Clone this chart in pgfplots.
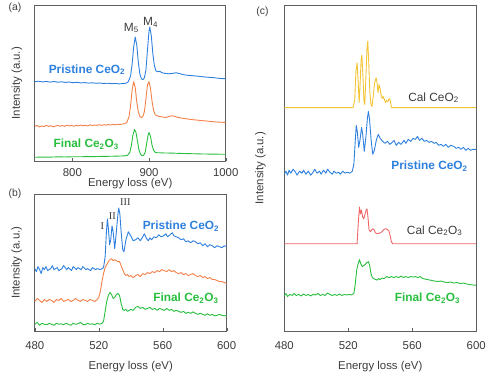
\documentclass[border=0pt]{standalone}
\usepackage{pgfplots}
\pgfplotsset{compat=1.18}
\usepackage{fontspec}
\setmainfont{Liberation Sans}
\newfontfamily\romanfont{Liberation Serif}
\definecolor{cblue}{RGB}{45,128,222}
\definecolor{corange}{RGB}{242,128,72}
\definecolor{cgreen}{RGB}{40,190,62}
\definecolor{cyellow}{RGB}{245,196,52}
\definecolor{cred}{RGB}{240,102,102}
\definecolor{cframe}{RGB}{95,95,95}
\definecolor{ctext}{RGB}{60,60,60}
\pgfplotsset{
  panel/.style={
    scale only axis,
    axis line style={cframe, line width=0.8bp},
    ytick=\empty,
    xtick pos=left,
    tick align=inside,
    major tick length=3bp,
    tick style={cframe},
    /pgf/number format/assume math mode=true,
    /pgf/number format/1000 sep={},
    tick label style={font=\fontsize{11.5}{13}\selectfont, text=ctext},
    label style={font=\fontsize{11.5}{13}\selectfont, text=ctext},
    xlabel={Energy loss (eV)},
    ylabel={Intensity (a.u.)},
    clip=true,
    every axis plot/.append style={line width=0.9bp, line join=round},
  }
}
\newcommand{\lab}[1]{\fontsize{12}{13}\selectfont\bfseries #1}
\newcommand{\labn}[1]{\fontsize{12}{13}\selectfont #1}
\begin{document}
\begin{tikzpicture}[x=1bp,y=1bp]
\path (0,0) rectangle (489,-381);
% ---------------- panel (a)
\begin{axis}[panel, at={(35bp,-162bp)}, anchor=south west,
  width=192bp, height=157bp, xmin=751, xmax=1000, ymin=0, ymax=157,
  xtick={800,900,1000},
  xticklabel style={anchor=center, yshift=-11bp},
  xlabel style={at={(axis description cs:0.5,0)}, anchor=center, yshift=-22bp},
  ylabel style={at={(axis description cs:-0.094,0.5)}, anchor=center}]
\addplot[cblue] coordinates {
(751,80) (756,80.5) (761,79.8) (766,80.3) (771,79.6) (776,80.2) (781,79.5) (786,79.9) (791,79.3) (796,79.7) (801,79.0) (806,79.4) (811,78.8) (816,79.1) (821,78.6) (826,78.9) (831,78.4) (836,78.7) (841,78.2) (846,78.5) (851,78.0) (856,78.3) (861,77.8) (866,78.2) (870,78.5) (873,80) (876,86) (878,98) (880,115) (882,125) (884,117) (886,100) (888,88) (890,83) (892,82) (894,84) (896,92) (898,112) (900,131) (901,135) (903,126) (905,108) (907,96) (909,91) (911,90) (914,90.5) (917,89) (920,88.5) (925,88) (930,88.3) (935,89) (940,88.2) (945,87) (950,86.5) (955,86.2) (960,85.8) (965,85.5) (970,85) (975,84.6) (980,84.3) (985,84) (990,83.5) (995,83.2) (1000,83)};
\addplot[corange] coordinates {
(751,35) (754,36) (757,34.5) (760,35.5) (763,34.8) (766,36.2) (769,35) (772,35.8) (775,34.6) (778,35.4) (781,36) (784,35.2) (787,35.9) (790,35.1) (793,36.3) (796,35.5) (799,35.9) (802,35.2) (805,36.1) (808,35.6) (811,36.4) (814,35.8) (817,36.2) (820,35.5) (823,36.6) (826,35.9) (829,36.5) (832,36) (835,36.8) (838,36.1) (841,36.7) (844,36.3) (847,37) (850,36.4) (853,37.1) (856,36.6) (859,37.2) (862,36.9) (865,37.4) (868,37.8) (871,39) (874,45) (876,56) (878,72) (880,80) (882,74) (884,60) (886,50) (888,45) (890,44) (892,45) (894,50) (896,63) (898,77) (900,80) (902,73) (904,60) (906,51) (908,47) (911,45.5) (914,45) (918,44.5) (922,44) (926,45) (930,45.8) (934,45) (938,44) (942,43.5) (946,43) (950,42.5) (955,42) (960,41.6) (965,41.2) (970,40.8) (975,40.5) (980,40) (985,39.7) (990,39.4) (995,39.2) (1000,39)};
\addplot[cgreen] coordinates {
(751,4) (760,4.2) (770,4.1) (780,4.4) (790,4.3) (800,4.5) (810,4.5) (820,4.7) (830,4.7) (840,4.9) (850,5) (860,5.2) (868,5.4) (872,6) (875,9) (877,16) (879,26) (881,32) (883,29) (885,20) (887,11) (889,7) (891,5.5) (893,6) (895,9) (897,18) (899,27) (900,29) (902,25) (904,16) (906,11) (908,9) (911,8.5) (915,8.5) (920,8.3) (930,8.2) (940,7.9) (950,7.7) (960,7.5) (970,7.3) (980,7.2) (990,7.1) (1000,7)};
\node[text=cblue] at (axis cs:819,92) {\lab{Pristine CeO\textsubscript{2}}};
\node[text=cgreen] at (axis cs:818,17) {\lab{Final Ce\textsubscript{2}O\textsubscript{3}}};
\node[text=ctext] at (axis cs:877,134) {\labn{M\textsubscript{5}}};
\node[text=ctext] at (axis cs:902,140) {\labn{M\textsubscript{4}}};
\end{axis}
% ---------------- panel (b)
\begin{axis}[panel, at={(35bp,-333bp)}, anchor=south west,
  width=193bp, height=138bp, xmin=480, xmax=600, ymin=0, ymax=138,
  xtick={480,520,560,600},
  xticklabel style={anchor=center, yshift=-14bp},
  xlabel style={at={(axis description cs:0.5,0)}, anchor=center, yshift=-36bp},
  ylabel style={at={(axis description cs:-0.094,0.5)}, anchor=center}]
\addplot[cblue] coordinates {
(480,63) (481,60) (482,65) (483,62) (484,58) (485,64) (486,62) (487,65) (488,61) (490,63) (491,66) (492,62) (494,64) (495,61) (497,63) (498,66) (500,62) (501,64) (503,61) (504,65) (506,62) (507,64) (509,62) (510,65) (512,62) (513,63) (515,61) (516,64) (518,62) (519,63) (521,62) (522,63) (523,64) (524,75) (524.8,100) (525.4,113) (526,104) (526.8,87) (527.5,92) (528.3,106) (529,100) (530,83) (531,100) (532,118) (532.5,124) (533.2,118) (534,100) (535,82) (535.8,80) (537,92) (538.5,100) (540,96) (541.5,91) (543,92) (544.5,94) (546,91) (547.5,95) (548.5,98) (550,93) (551,91) (552,94) (553,92) (554.5,95) (556,94) (557.5,97) (559,95) (560.5,96) (562,98) (563,95) (564.5,97) (566,99) (567,96) (568.5,95) (570,94) (571.5,92) (573,93) (574.5,90) (576,91) (577.5,89) (579,91) (580.5,90) (582,88) (583.5,89) (585,86) (586.5,88) (588,85) (589.5,87) (591,86) (592.5,84) (594,86) (595.5,85) (597,84) (598.5,86) (600,85)};
\addplot[corange] coordinates {
(480,30) (481.5,33) (483,31) (484.5,29) (486,32) (487.5,30) (489,32) (490.5,31) (492,29) (493.5,32) (495,31) (496.5,33) (498,30) (499.5,31) (501,32) (502.5,30) (504,31) (505.5,33) (507,31) (508.5,30) (510,32) (511.5,31) (513,30) (514.5,32) (516,31) (517.5,30) (519,32) (520,34) (521,40) (522,50) (523,58) (524,64) (525,67) (526,70) (527,72) (528,73) (529,71) (530,72) (531,71) (532,70) (533,70) (534,66) (535,62) (536,58) (537,56) (538,57) (539,55) (540,56) (541.5,54) (543,56) (544.5,57) (546,55) (547.5,58) (549,57) (550.5,59) (552,58) (553.5,60) (555,59) (556.5,61) (558,60) (559.5,62) (561,61) (562.5,60) (564,62) (565.5,60) (567,61) (568.5,59) (570,58) (571.5,59) (573,57) (574.5,58) (576,56) (577.5,57) (579,58) (580.5,56) (582,55) (583.5,56) (585,54) (586.5,55) (588,53) (589.5,54) (591,52) (592.5,52) (594,51) (595.5,50) (597,50) (598.5,49) (600,48)};
\addplot[cgreen] coordinates {
(480,7) (481.5,9) (483,6) (484.5,8) (486,7) (487.5,6.5) (489,8) (490.5,7) (492,6) (493.5,8) (495,7) (496.5,7.5) (498,6.5) (499.5,8) (501,7) (502.5,6) (504,8) (505.5,7) (507,7.5) (508.5,9) (510,7) (511.5,6.5) (513,8) (514.5,7) (516,7.5) (517.5,6.5) (519,8) (520.5,7) (522,8) (523,10) (524,20) (525,30) (526,36) (527,39) (528,37) (529,33) (530,34) (531,37) (532,38) (533,36) (534,28) (535,22) (536,21) (537,22) (538,20) (539,21) (540,22) (541.5,21) (543,24) (544.5,25) (546,23) (547.5,24) (549,22) (550.5,23) (552,24) (553.5,22) (555,23) (556.5,21) (558,23) (559.5,22) (561,21) (562.5,23) (564,21) (565.5,22) (567,20) (568.5,21) (570,20) (571.5,19) (573,20) (574.5,18) (576,19) (577.5,18) (579,19.5) (580.5,18) (582,17) (583.5,18) (585,17) (586.5,16) (588,17.5) (589.5,16) (591,17) (592.5,15.5) (594,16) (595.5,17) (597,16) (598.5,15.5) (600,16)};
\node[text=cblue] at (axis cs:571.4,106) {\lab{Pristine CeO\textsubscript{2}}};
\node[text=cgreen] at (axis cs:574.5,33) {\lab{Final Ce\textsubscript{2}O\textsubscript{3}}};
\node[text=ctext] at (axis cs:522.3,106) {\romanfont\fontsize{10.5}{12}\selectfont I};
\node[text=ctext] at (axis cs:528.5,116) {\romanfont\fontsize{10.5}{12}\selectfont II};
\node[text=ctext] at (axis cs:536.6,130) {\romanfont\fontsize{10.5}{12}\selectfont III};
\end{axis}
% ---------------- panel (c)
\begin{axis}[panel, at={(286bp,-333bp)}, anchor=south west,
  width=193bp, height=328bp, xmin=480, xmax=600, ymin=0, ymax=328,
  xtick={480,520,560,600},
  xticklabel style={anchor=center, yshift=-14bp},
  xlabel style={at={(axis description cs:0.5,0)}, anchor=center, yshift=-36bp},
  ylabel style={at={(axis description cs:-0.124,0.5)}, anchor=center}]
\addplot[cyellow] coordinates {
(480,225) (523,225) (524,232) (524.8,262) (525.5,270) (526.2,250) (526.8,230) (527.3,245) (528,272) (528.5,278) (529.2,255) (529.8,232) (530.3,228) (531,255) (531.7,285) (532.2,292) (532.8,270) (533.5,240) (534.2,228) (534.8,226) (535.5,235) (536.5,250) (537.4,255) (538,250) (538.6,240) (539.2,248) (539.8,245) (540.5,238) (541.2,234) (541.8,236) (542.6,233) (543.3,230) (544,232) (544.8,231) (545.6,234) (546.3,232) (547,225) (600,225)};
\addplot[cblue] coordinates {
(480,158) (481,161) (482,157) (483,162) (484,159) (485.5,163) (487,160) (488,157) (489.5,161) (491,159) (492,162) (493.5,158) (495,161) (496.5,157) (498,160) (499,163) (500.5,159) (502,161) (503,158) (504.5,162) (506,159) (507,163) (508.5,160) (510,158) (511,161) (512.5,159) (514,160) (515,158) (516.5,161) (518,159) (519.5,160) (521,159) (522.5,161) (523.5,168) (524.3,190) (525,207) (525.7,200) (526.5,185) (527.3,192) (528.3,205) (529,198) (530,181) (531,195) (532,215) (532.6,221) (533.3,213) (534.3,192) (535.3,178) (536.3,182) (537.5,192) (538.7,198) (540,194) (541.5,191) (543,189) (544.5,191) (546,188) (547.5,190) (548.6,192) (550,187) (551.5,190) (553,188) (554.9,192) (556,189) (557.5,193) (559,191) (560.5,194) (562,193) (563.3,196) (564.5,192) (566,194) (567.5,191) (569,192) (570.5,190) (572,191) (573.7,189) (575,190) (576.5,187) (578,188) (579.5,186) (581,188) (582.5,185) (584,187) (586,186) (587.5,184) (589,185) (590.5,183) (592,185) (593.5,182) (595,184) (596.5,182) (598,183) (600,183)};
\addplot[cred] coordinates {
(480,88) (525.5,88) (526.3,110) (527,125) (527.6,118) (528.2,122) (529,115) (529.7,113) (530.5,118) (531.2,122) (531.7,123) (532.3,115) (533,102) (533.8,100) (534.6,102) (535.3,103) (536.2,102) (537,99) (538,98) (539,98.5) (540,99) (541,100) (542,102) (543,103) (543.8,103) (544.6,102) (545.4,101) (546.2,96) (547,90) (547.8,88) (600,88)};
\addplot[cgreen] coordinates {
(480,36) (481,38) (482,35) (483.5,37) (485,36) (486,38) (487.5,36) (489,37) (490.5,35.5) (492,37.5) (493.5,36) (495,37) (496.5,35.5) (498,37) (499.5,36.5) (501,38) (502.5,36) (504,37) (505.5,36) (507,38.5) (508.5,37) (510,36) (511.5,37) (513,36) (514.5,37.5) (516,36) (517.5,37) (519,36.5) (520.5,37) (522,36.5) (523.5,38) (524.4,48) (525.3,62) (526.2,68) (527,72) (527.8,68) (528.7,65) (529.5,66) (530.5,67) (531.5,69) (532.6,70) (533.4,66) (534.2,58) (535,54) (536,53) (537,52) (538,51.5) (539,53) (540,52) (541,53.5) (542.5,53) (544,55) (545.5,54) (547,55) (548.5,54) (550,55) (551.5,54) (553,55.5) (554.5,54) (556,55) (557.5,54) (559,55) (560.5,54.5) (562,55) (563.5,54) (565,55) (566.5,53) (568,52.5) (569.5,52) (571,51.5) (572.5,51) (574,50.5) (576,50) (578,50.5) (580,49.5) (582,49) (584,49.5) (586,48.5) (588,49) (590,48) (592,48.5) (594,47.5) (596,47) (598,46.5) (600,46.3)};
\node[text=ctext] at (axis cs:573.3,235) {\labn{Cal CeO\textsubscript{2}}};
\node[text=cblue] at (axis cs:570.8,166) {\lab{Pristine CeO\textsubscript{2}}};
\node[text=ctext] at (axis cs:574,101) {\labn{Cal Ce\textsubscript{2}O\textsubscript{3}}};
\node[text=cgreen] at (axis cs:569.5,33) {\lab{Final Ce\textsubscript{2}O\textsubscript{3}}};
\end{axis}
\node[text=ctext, font=\fontsize{10.5}{12}\selectfont] at (15,-8) {(a)};
\node[text=ctext, font=\fontsize{10.5}{12}\selectfont] at (15,-195) {(b)};
\node[text=ctext, font=\fontsize{10.5}{12}\selectfont] at (264,-12) {(c)};
\end{tikzpicture}
\end{document}
